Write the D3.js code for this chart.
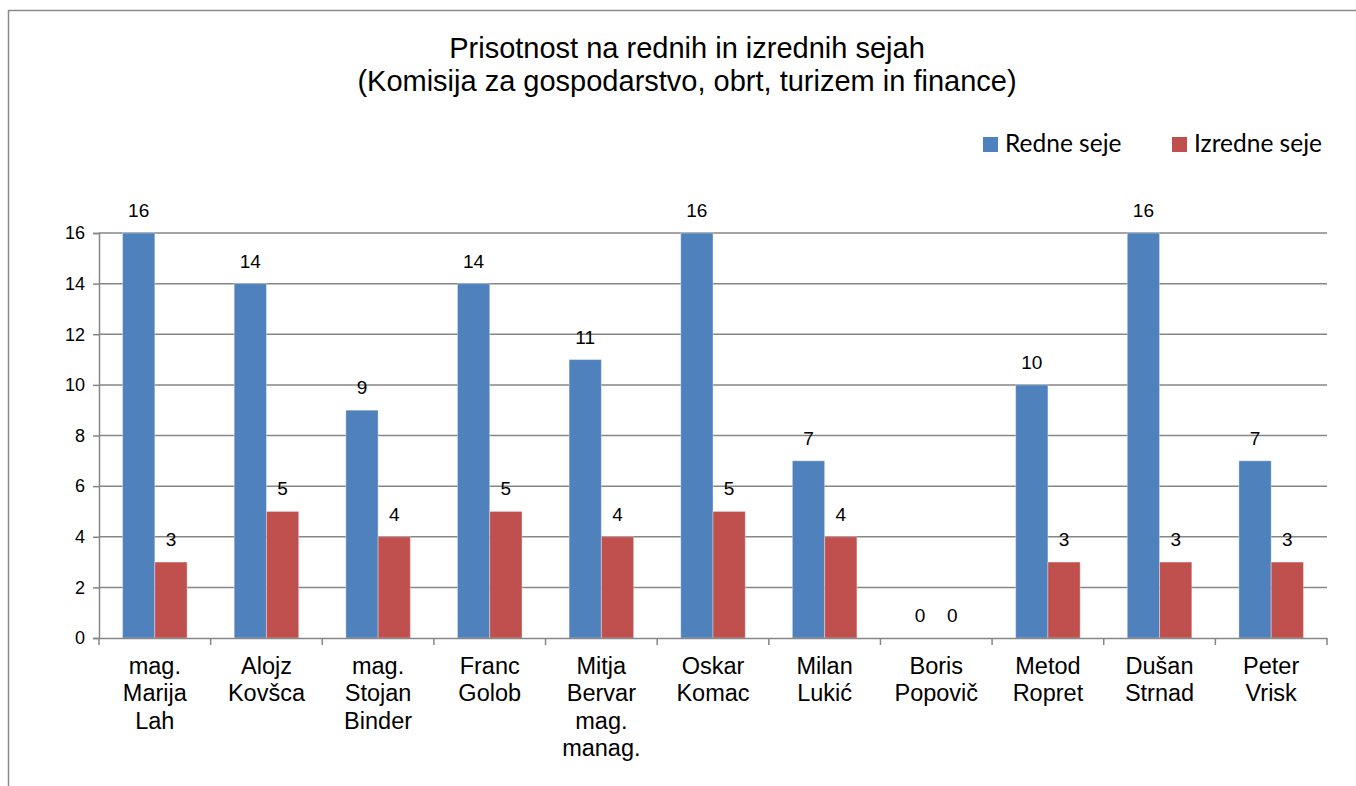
<!DOCTYPE html>
<html>
<head>
<meta charset="utf-8">
<script src="https://cdn.jsdelivr.net/npm/d3@7"></script>
<style>
  body { margin: 0; background: #fff; }
  text { font-family: "Liberation Sans", Arial, sans-serif; fill: #000; }
</style>
</head>
<body>
<script>
const names = ['mag. Marija Lah', 'Alojz Kovšca', 'mag. Stojan Binder', 'Franc Golob',
  'Mitja Bervar mag. manag.', 'Oskar Komac', 'Milan Lukić', 'Boris Popovič',
  'Metod Ropret', 'Dušan Strnad', 'Peter Vrisk'];
const redne = [16, 14, 9, 14, 11, 16, 7, 0, 10, 16, 7];
const izredne = [3, 5, 4, 5, 4, 5, 4, 0, 3, 3, 3];
const seriesNames = ['Redne seje', 'Izredne seje'];
const colors = ['#4F81BD', '#C0504D'];
const yTicks = [0, 2, 4, 6, 8, 10, 12, 14, 16];

const w = 1356, h = 786;
const plotLeft = 99, plotRight = 1327, plotTop = 233, plotBottom = 638;

const svg = d3.select('body').append('svg')
  .attr('width', w)
  .attr('height', h);

// chart frame (cut off at right/bottom)
svg.append('rect')
  .attr('x', 8.5).attr('y', 10.5)
  .attr('width', w + 20).attr('height', h + 20)
  .attr('fill', 'none')
  .attr('stroke', '#8a8a8a')
  .attr('stroke-width', 1.5);

// title
const title = svg.append('text')
  .attr('text-anchor', 'middle')
  .style('font-size', '29px');
title.append('tspan').attr('x', 687).attr('y', 58).text('Prisotnost na rednih in izrednih sejah');
title.append('tspan').attr('x', 687).attr('y', 91).text('(Komisija za gospodarstvo, obrt, turizem in finance)');

// legend
const legendX = [983, 1172];
seriesNames.forEach((s, i) => {
  svg.append('rect')
    .attr('x', legendX[i]).attr('y', 137)
    .attr('width', 15).attr('height', 15)
    .attr('fill', colors[i]);
  svg.append('text')
    .attr('x', legendX[i] + 22).attr('y', 152)
    .style('font-family', 'Lato, "Open Sans", sans-serif')
    .style('font-size', '24.5px')
    .text(s);
});

const x0 = d3.scaleBand().domain(names).range([plotLeft, plotRight]).padding(0);
const x1 = d3.scaleBand().domain([0, 1]).range([0, x0.bandwidth()])
  .paddingInner(0).paddingOuter(0.73);
const y = d3.scaleLinear().domain([0, 16]).range([plotBottom, plotTop]);

// gridlines
svg.append('g')
  .selectAll('line')
  .data(yTicks.filter(t => t > 0))
  .enter()
  .append('line')
  .attr('x1', plotLeft).attr('x2', plotRight)
  .attr('y1', d => y(d)).attr('y2', d => y(d))
  .attr('stroke', '#868686')
  .attr('stroke-width', 1.5);

// y axis
const yAxis = d3.axisLeft(y).tickValues(yTicks).tickSize(6).tickPadding(8);
const gy = svg.append('g')
  .attr('transform', `translate(${plotLeft}, 0)`)
  .call(yAxis);
gy.select('.domain').attr('stroke', '#868686').attr('stroke-width', 1.5);
gy.selectAll('.tick line').attr('stroke', '#868686').attr('stroke-width', 1.5);
gy.selectAll('.tick text')
  .style('font-family', '"Liberation Sans", Arial, sans-serif')
  .style('font-size', '18px')
  .attr('fill', '#000');

// bars
const data = names.map((n, i) => ({ name: n, vals: [redne[i], izredne[i]] }));
const groups = svg.append('g')
  .selectAll('g')
  .data(data)
  .enter()
  .append('g')
  .attr('transform', d => `translate(${x0(d.name)}, 0)`);

groups.selectAll('rect')
  .data(d => d.vals.map((v, k) => ({ v, k })))
  .enter()
  .append('rect')
  .attr('x', d => x1(d.k))
  .attr('y', d => y(d.v))
  .attr('width', x1.bandwidth())
  .attr('height', d => plotBottom - y(d.v))
  .attr('fill', d => colors[d.k])
  .attr('stroke', 'rgba(255,255,255,0.35)')
  .attr('stroke-width', 1);

groups.selectAll('text')
  .data(d => d.vals.map((v, k) => ({ v, k })))
  .enter()
  .append('text')
  .attr('x', d => x1(d.k) + x1.bandwidth() / 2)
  .attr('y', d => y(d.v) - 16)
  .attr('text-anchor', 'middle')
  .style('font-size', '19px')
  .text(d => d.v);

// x axis
const xAxis = d3.axisBottom(x0).tickSize(0).tickFormat('');
const gx = svg.append('g')
  .attr('transform', `translate(0, ${plotBottom})`)
  .call(xAxis);
gx.select('.domain').attr('stroke', '#868686').attr('stroke-width', 1.5);

// boundary ticks
svg.append('g')
  .selectAll('line')
  .data(names.concat(['__end']))
  .enter()
  .append('line')
  .attr('x1', (d, i) => plotLeft + i * x0.step())
  .attr('x2', (d, i) => plotLeft + i * x0.step())
  .attr('y1', plotBottom).attr('y2', plotBottom + 7)
  .attr('stroke', '#868686')
  .attr('stroke-width', 1.5);

// category labels
svg.append('g')
  .selectAll('text')
  .data(names)
  .enter()
  .append('text')
  .attr('text-anchor', 'middle')
  .style('font-size', '23.5px')
  .each(function (d) {
    const t = d3.select(this);
    d.split(' ').forEach((word, i) => {
      t.append('tspan')
        .attr('x', x0(d) + x0.bandwidth() / 2)
        .attr('y', 674 + i * 27.3)
        .text(word);
    });
  });
</script>
</body>
</html>
